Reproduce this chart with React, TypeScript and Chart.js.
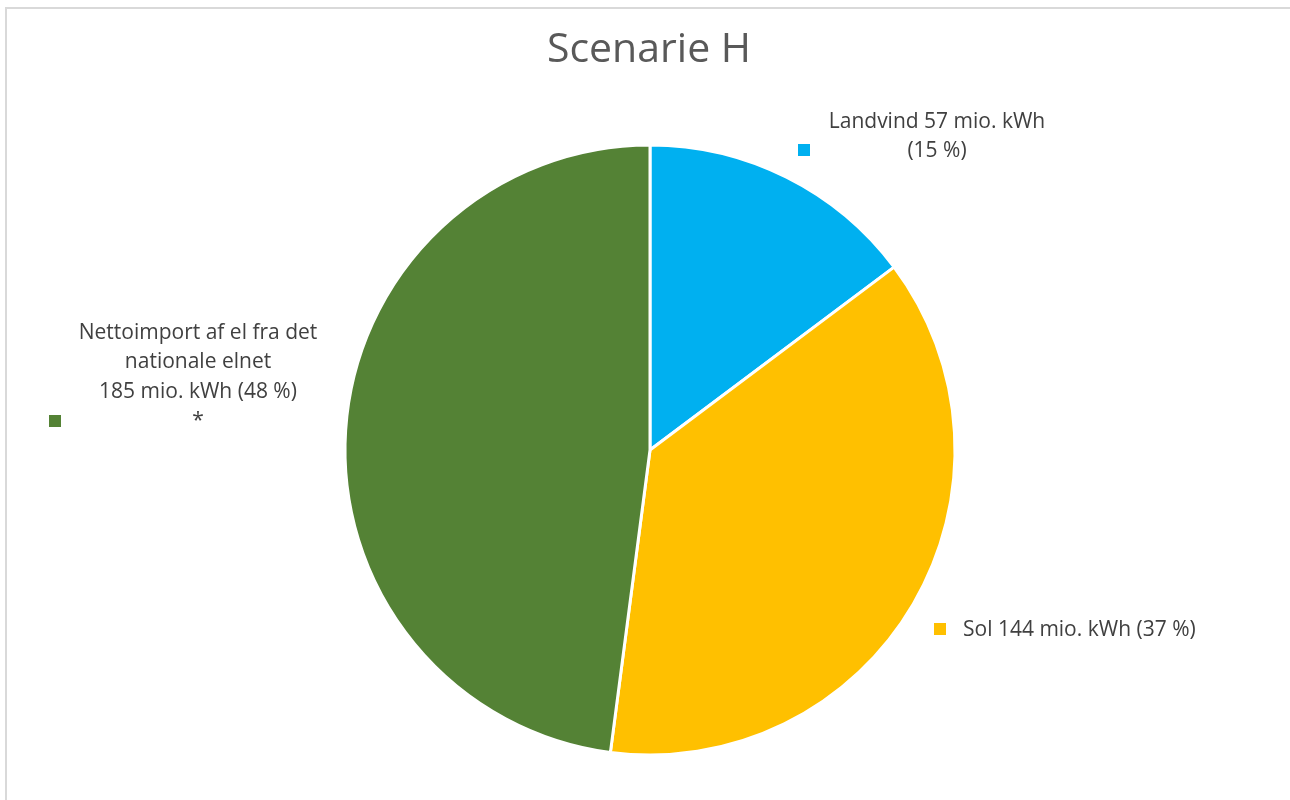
import React, { useEffect, useRef } from "react";
import { Chart, registerables } from "chart.js";

Chart.register(...registerables);

const titleText = "Scenarie H";
const categories = ["Landvind", "Sol", "Nettoimport af el fra det nationale elnet"];
const values = [57, 144, 185];
const unit = "mio. kWh";
const colors = ["#00B0F0", "#FFC000", "#548235"];

// label text lines per slice ({v} = value, {p} = percent)
const labelLines: string[][] = [
  ["Landvind {v} mio. kWh", "({p} %)"],
  ["Sol {v} mio. kWh ({p} %)"],
  ["Nettoimport af el fra det", "nationale elnet", "{v} mio. kWh ({p} %)", "*"],
];

const FONT = "'Open Sans', sans-serif";

export default function App() {
  const ref = useRef<HTMLCanvasElement | null>(null);

  useEffect(() => {
    const canvas = ref.current;
    if (!canvas) return;
    const total = values.reduce((a, b) => a + b, 0);
    const pct = values.map((v) => Math.round((v / total) * 100));
    const lines = labelLines.map((ls, i) =>
      ls.map((l) =>
        l.replace(/\{v\}/g, String(values[i])).replace(/\{p\}/g, String(pct[i]))
      )
    );

    const labelPlugin = {
      id: "customLabels",
      afterDraw(chart: any) {
        const ctx = chart.ctx as CanvasRenderingContext2D;
        const meta = chart.getDatasetMeta(0);
        const arc = meta.data[0];
        const cx = arc.x;
        ctx.save();
        // title
        ctx.fillStyle = "#595959";
        ctx.font = `41px ${FONT}`;
        ctx.textAlign = "center";
        ctx.textBaseline = "middle";
        ctx.fillText(titleText, cx - 1, 50);

        ctx.font = `21px ${FONT}`;
        ctx.fillStyle = "#404040";
        const lh = 29.5;
        const layouts = [
          { align: "center", x: 937, y: 122, keyX: 798, keyY: 150 },
          { align: "left", x: 963, y: 630, keyX: 934, keyY: 629 },
          { align: "center", x: 198, y: 333, keyX: 49, keyY: 421 },
        ];
        layouts.forEach((lay, i) => {
          ctx.textAlign = lay.align as CanvasTextAlign;
          lines[i].forEach((t, j) => {
            ctx.fillText(t, lay.x, lay.y + j * lh);
          });
          ctx.fillStyle = colors[i];
          ctx.fillRect(lay.keyX, lay.keyY - 6, 12, 12);
          ctx.fillStyle = "#404040";
        });
        ctx.restore();
      },
    };

    const chart = new Chart(canvas, {
      type: "pie",
      data: {
        labels: categories,
        datasets: [
          {
            data: values,
            backgroundColor: colors,
            borderColor: "#FFFFFF",
            borderWidth: 3,
            radius: 305,
          },
        ],
      },
      options: {
        responsive: false,
        animation: false,
        rotation: 0,
        layout: { padding: { left: 345, right: 335, top: 145, bottom: 45 } },
        plugins: {
          legend: { display: false },
          tooltip: { enabled: false },
          title: { display: false },
        },
      },
      plugins: [labelPlugin],
    });
    return () => chart.destroy();
  }, []);

  return (
    <div
      style={{
        position: "absolute",
        left: 0,
        top: 0,
        width: 1290,
        height: 800,
        overflow: "hidden",
        background: "#fff",
      }}
    >
      <div
        style={{
          position: "absolute",
          left: 5,
          top: 7,
          width: 1400,
          height: 900,
          border: "2px solid #d9d9d9",
        }}
      />
      <canvas
        ref={ref}
        width={1290}
        height={800}
        style={{ position: "absolute", left: 0, top: 0, width: 1290, height: 800 }}
      />
    </div>
  );
}
